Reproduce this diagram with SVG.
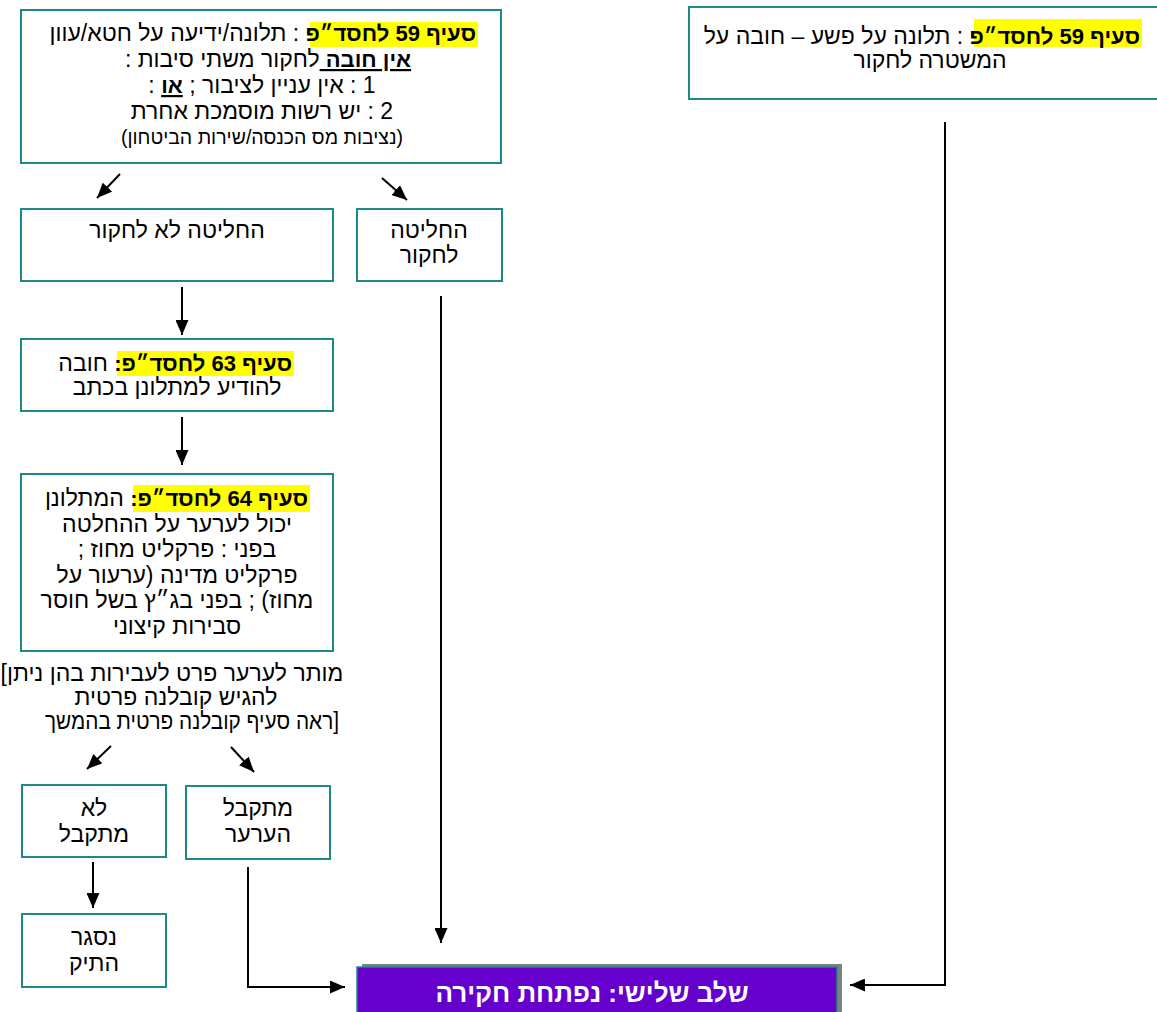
<svg xmlns="http://www.w3.org/2000/svg" width="1157" height="1012" viewBox="0 0 1157 1012">
<defs>
<style>
.box{fill:#ffffff;stroke:#1b8a87;stroke-width:2}
.t{font-family:"Liberation Sans","DejaVu Sans",sans-serif;font-size:23px;fill:#000;text-anchor:middle}
.s{text-anchor:start}
.b{font-weight:bold;font-size:22px}
.bu{font-weight:bold;font-size:22px;text-decoration:underline}
.hl{fill:#ffff00}
.small{font-size:19.5px}
.c{fill:none;stroke:#000;stroke-width:2}
.w{fill:#ffffff;font-weight:bold;font-size:26px}
</style>
<marker id="ah" markerUnits="userSpaceOnUse" markerWidth="15" markerHeight="13" refX="15" refY="6.5" orient="auto">
<path d="M0,0 L15,6.5 L0,13 z" fill="#000"/>
</marker>
</defs>
<rect width="1157" height="1012" fill="#ffffff"/>

<g id="connectors">
<line class="c" x1="120" y1="174" x2="97" y2="198" marker-end="url(#ah)"/>
<line class="c" x1="382" y1="178" x2="407" y2="200" marker-end="url(#ah)"/>
<line class="c" x1="182" y1="287" x2="182" y2="335" marker-end="url(#ah)"/>
<line class="c" x1="182" y1="417" x2="182" y2="465" marker-end="url(#ah)"/>
<line class="c" x1="111" y1="746" x2="87" y2="769" marker-end="url(#ah)"/>
<line class="c" x1="231" y1="747" x2="254" y2="772" marker-end="url(#ah)"/>
<line class="c" x1="93" y1="862" x2="93" y2="908" marker-end="url(#ah)"/>
<polyline class="c" points="248,867 248,987 345,987" marker-end="url(#ah)"/>
<line class="c" x1="441" y1="296" x2="441" y2="943" marker-end="url(#ah)"/>
<polyline class="c" points="945,122 945,985 850,985" marker-end="url(#ah)"/>
</g>

<g id="node-s59-left">
<rect class="box" x="21" y="10" width="480" height="153"/>
<rect class="hl" x="310" y="22" width="168" height="25"/>
<text class="t s" x="476" y="41" direction="rtl"><tspan class="b">סעיף 59 לחסד״פ</tspan> : תלונה/ידיעה על חטא/עוון</text>
<text class="t" x="268" y="67" direction="rtl"><tspan class="bu">אין חובה </tspan>לחקור משתי סיבות :</text>
<text class="t" x="262" y="93" direction="rtl">1 : אין עניין לציבור ; <tspan class="bu">או</tspan> :</text>
<text class="t" x="262" y="119" direction="rtl">2 : יש רשות מוסמכת אחרת</text>
<text class="t small" x="262" y="144" direction="rtl">(נציבות מס הכנסה/שירות הביטחון)</text>
</g>

<g id="node-s59-right">
<rect class="box" x="689" y="7" width="490" height="92"/>
<rect class="hl" x="974" y="19" width="168" height="28"/>
<text class="t s" x="1140" y="44" direction="rtl"><tspan class="b">סעיף 59 לחסד״פ</tspan> : תלונה על פשע – חובה על</text>
<text class="t" x="930" y="68" direction="rtl">המשטרה לחקור</text>
</g>

<g id="node-not-investigate">
<rect class="box" x="21" y="209" width="312" height="72"/>
<text class="t" x="177" y="238" direction="rtl">החליטה לא לחקור</text>
</g>

<g id="node-investigate">
<rect class="box" x="357" y="209" width="145" height="72"/>
<text class="t" x="429" y="238" direction="rtl">החליטה</text>
<text class="t" x="429" y="263" direction="rtl">לחקור</text>
</g>

<g id="node-s63">
<rect class="box" x="21" y="339" width="312" height="72"/>
<rect class="hl" x="117" y="351" width="177" height="25"/>
<text class="t s" x="292" y="371" direction="rtl"><tspan class="b">סעיף 63 לחסד״פ:</tspan> חובה</text>
<text class="t" x="177" y="395" direction="rtl">להודיע למתלונן בכתב</text>
</g>

<g id="node-s64">
<rect class="box" x="21" y="474" width="312" height="177"/>
<rect class="hl" x="133" y="485" width="177" height="27"/>
<text class="t s" x="308" y="506" direction="rtl"><tspan class="b">סעיף 64 לחסד״פ:</tspan> המתלונן</text>
<text class="t" x="177" y="532" direction="rtl">יכול לערער על ההחלטה</text>
<text class="t" x="177" y="557" direction="rtl">בפני : פרקליט מחוז ;</text>
<text class="t" x="177" y="583" direction="rtl">פרקליט מדינה (ערעור על</text>
<text class="t" x="177" y="608" direction="rtl">מחוז) ; בפני בג״ץ בשל חוסר</text>
<text class="t" x="177" y="634" direction="rtl">סבירות קיצוני</text>
</g>

<g id="note-private">
<text class="t" x="172" y="681" direction="ltr">[מותר לערער פרט לעבירות בהן ניתן</text>
<text class="t" x="176" y="705" direction="rtl">להגיש קובלנה פרטית</text>
<text class="t" x="192" y="729" direction="ltr" textLength="294" lengthAdjust="spacingAndGlyphs">ראה סעיף קובלנה פרטית בהמשך]</text>
</g>

<g id="node-rejected">
<rect class="box" x="22" y="785" width="144" height="72"/>
<text class="t" x="94" y="816" direction="rtl">לא</text>
<text class="t" x="94" y="842" direction="rtl">מתקבל</text>
</g>

<g id="node-accepted">
<rect class="box" x="186" y="786" width="144" height="73"/>
<text class="t" x="258" y="816" direction="rtl">מתקבל</text>
<text class="t" x="258" y="842" direction="rtl">הערער</text>
</g>

<g id="node-closed">
<rect class="box" x="22" y="914" width="144" height="73"/>
<text class="t" x="94" y="945" direction="rtl">נסגר</text>
<text class="t" x="94" y="971" direction="rtl">התיק</text>
</g>

<g id="node-stage3">
<rect x="362" y="964" width="480" height="60" fill="#808080"/>
<rect x="357" y="967" width="480" height="60" fill="#6600cc" stroke="#1b8a87" stroke-width="1.5"/>
<text class="t w" x="592" y="1002" direction="rtl">שלב שלישי:  נפתחת חקירה</text>
</g>
</svg>
